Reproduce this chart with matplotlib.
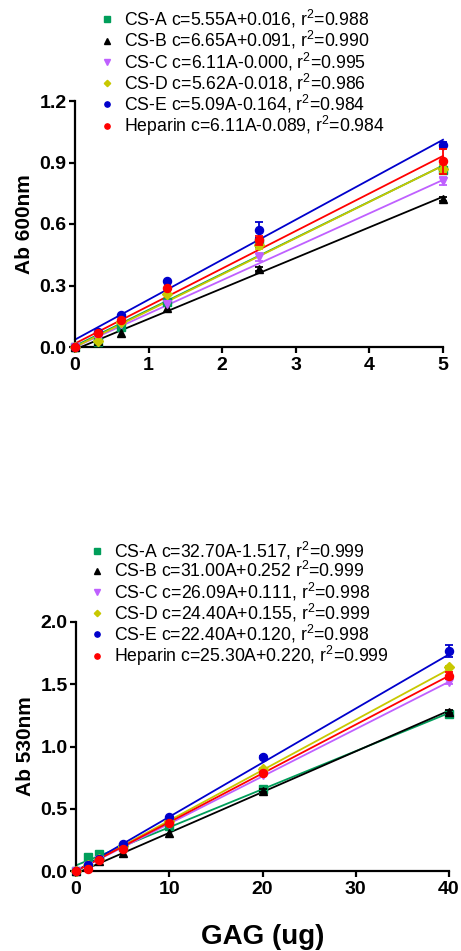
import matplotlib
matplotlib.use("Agg")
import matplotlib.pyplot as plt
from matplotlib.lines import Line2D
import numpy as np

plt.rcParams['font.family'] = ['Liberation Sans', 'DejaVu Sans']
plt.rcParams['mathtext.fontset'] = 'custom'
plt.rcParams['mathtext.rm'] = 'Liberation Sans'
plt.rcParams['mathtext.default'] = 'regular'

# ---------------- data ----------------
series = ["CS-A", "CS-B", "CS-C", "CS-D", "CS-E", "Heparin"]
colors = ["#009e5a", "#000000", "#bf60ff", "#c8c800", "#0000cc", "#ff0000"]
markers = ["s", "^", "v", "D", "o", "o"]

# top panel (Ab 600nm)
top_x = [0, 0.3125, 0.625, 1.25, 2.5, 5]
top_A = [0, 0.025, 0.10, 0.22, 0.51, 0.865]
top_B = [0, 0.03, 0.07, 0.19, 0.38, 0.72]
top_C = [0, 0.04, 0.11, 0.21, 0.44, 0.81]
top_D = [0, 0.03, 0.12, 0.26, 0.50, 0.87]
top_E = [0, 0.075, 0.155, 0.32, 0.57, 0.985]
top_H = [0, 0.07, 0.13, 0.29, 0.52, 0.905]
top_errA = [0, 0, 0, 0, 0.02, 0.02]
top_errB = [0, 0, 0, 0, 0.01, 0.01]
top_errC = [0, 0, 0, 0, 0.02, 0.02]
top_errD = [0, 0, 0, 0, 0.02, 0.02]
top_errE = [0, 0, 0, 0, 0.04, 0.015]
top_errH = [0, 0, 0, 0, 0.02, 0.06]
top_slope = [0.176, 0.149, 0.163, 0.177, 0.195, 0.183]
top_icpt = [0.005, -0.012, 0.0, 0.0, 0.036, 0.017]
top_labels = ["CS-A c=5.55A+0.016, r$^2$=0.988",
              "CS-B c=6.65A+0.091, r$^2$=0.990",
              "CS-C c=6.11A-0.000, r$^2$=0.995",
              "CS-D c=5.62A-0.018, r$^2$=0.986",
              "CS-E c=5.09A-0.164, r$^2$=0.984",
              "Heparin c=6.11A-0.089, r$^2$=0.984"]
top_xticks = [0, 1, 2, 3, 4, 5]
top_yticks = [0.0, 0.3, 0.6, 0.9, 1.2]

# bottom panel (Ab 530nm)
bot_x = [0, 1.25, 2.5, 5, 10, 20, 40]
bot_A = [0, 0.11, 0.135, 0.19, 0.365, 0.66, 1.265]
bot_B = [0, 0.04, 0.078, 0.145, 0.305, 0.645, 1.28]
bot_C = [0, 0.04, 0.09, 0.19, 0.38, 0.77, 1.52]
bot_D = [0, 0.05, 0.10, 0.20, 0.40, 0.82, 1.635]
bot_E = [0, 0.05, 0.10, 0.22, 0.43, 0.915, 1.765]
bot_H = [0, 0.02, 0.09, 0.175, 0.385, 0.785, 1.57]
bot_errA = [0, 0, 0, 0, 0, 0.01, 0.02]
bot_errB = [0, 0, 0, 0, 0, 0.01, 0.01]
bot_errC = [0, 0, 0, 0, 0, 0.01, 0.02]
bot_errD = [0, 0, 0, 0, 0, 0.01, 0.01]
bot_errE = [0, 0, 0, 0, 0, 0.01, 0.05]
bot_errH = [0, 0, 0, 0, 0, 0.01, 0.03]
bot_slope = [0.0306, 0.0327, 0.0380, 0.0405, 0.0435, 0.0392]
bot_icpt = [0.045, -0.02, 0.0, 0.0, 0.0, 0.0]
bot_labels = ["CS-A c=32.70A-1.517, r$^2$=0.999",
              "CS-B c=31.00A+0.252 r$^2$=0.999",
              "CS-C c=26.09A+0.111, r$^2$=0.998",
              "CS-D c=24.40A+0.155, r$^2$=0.999",
              "CS-E c=22.40A+0.120, r$^2$=0.998",
              "Heparin c=25.30A+0.220, r$^2$=0.999"]
bot_xticks = [0, 10, 20, 30, 40]
bot_yticks = [0.0, 0.5, 1.0, 1.5, 2.0]

# ---------------- figure ----------------
W, H = 461, 951
fig = plt.figure(figsize=(W / 100, H / 100), dpi=100)

ax1 = fig.add_axes([75 / W, 1 - 347 / H, 368 / W, 246 / H])
ax2 = fig.add_axes([76 / W, 1 - 871 / H, 373 / W, 249 / H])


def draw(ax, xs, ys_list, errs_list, slopes, icpts, labels, xticks, yticks,
         ylabel, leg_left, leg_top, mksz):
    xmax = xticks[-1]
    xf = np.array([0, xmax], dtype=float)
    xs = np.asarray(xs, dtype=float)
    for i in range(len(series)):
        ax.plot(xf, slopes[i] * xf + icpts[i], color=colors[i], lw=1.3,
                zorder=2, clip_on=False)
    for i in range(len(series)):
        ms = mksz * (0.85 if markers[i] == "D" else 1.0)
        ys = np.asarray(ys_list[i], dtype=float)
        err = np.asarray(errs_list[i], dtype=float)
        m = err > 0
        if m.any():
            ax.errorbar(xs[m], ys[m], yerr=err[m], fmt="none",
                        ecolor=colors[i], elinewidth=1.3, capsize=3.2,
                        capthick=1.3, clip_on=False, zorder=3 + i)
        ax.plot(xs, ys, linestyle="", marker=markers[i], color=colors[i],
                ms=ms, mec=colors[i], clip_on=False, zorder=3 + i)
    ax.set_xlim(0, xmax)
    ax.set_ylim(yticks[0], yticks[-1])
    ax.set_xticks(xticks)
    ax.set_yticks(yticks)
    ax.set_xticklabels([str(t) for t in xticks])
    ax.set_yticklabels(["%.1f" % t for t in yticks])
    for s in ["top", "right"]:
        ax.spines[s].set_visible(False)
    for s in ["left", "bottom"]:
        ax.spines[s].set_linewidth(1.6)
    ax.tick_params(axis="both", direction="out", length=4, width=1.6,
                   labelsize=14)
    ax.tick_params(axis="y", pad=2)
    ax.tick_params(axis="x", pad=3)
    for lab in ax.get_xticklabels() + ax.get_yticklabels():
        lab.set_fontweight("bold")
    ax.set_ylabel(ylabel, fontsize=15, fontweight="bold", labelpad=4)

    handles = [Line2D([], [], linestyle="", marker=markers[i],
                      color=colors[i], ms=3.8 * (0.85 if markers[i] == "D" else 1.0))
               for i in range(len(series))]
    ax.legend(handles, labels, loc="upper left",
              bbox_to_anchor=(leg_left, leg_top),
              bbox_transform=fig.transFigure, frameon=False, fontsize=12.7,
              borderpad=0, borderaxespad=0, handlelength=1.0,
              handletextpad=0.5, labelspacing=-0.05)


draw(ax1, top_x, [top_A, top_B, top_C, top_D, top_E, top_H],
     [top_errA, top_errB, top_errC, top_errD, top_errE, top_errH],
     top_slope, top_icpt, top_labels, top_xticks, top_yticks,
     "Ab 600nm", 97.9 / W, 1 - 8 / H, 5.8)
draw(ax2, bot_x, [bot_A, bot_B, bot_C, bot_D, bot_E, bot_H],
     [bot_errA, bot_errB, bot_errC, bot_errD, bot_errE, bot_errH],
     bot_slope, bot_icpt, bot_labels, bot_xticks, bot_yticks,
     "Ab 530nm", 87.9 / W, 1 - 540 / H, 5.8)

ax2.set_xlabel("GAG (ug)", fontsize=20, fontweight="bold", labelpad=19)

fig.savefig("out.png", dpi=100)
